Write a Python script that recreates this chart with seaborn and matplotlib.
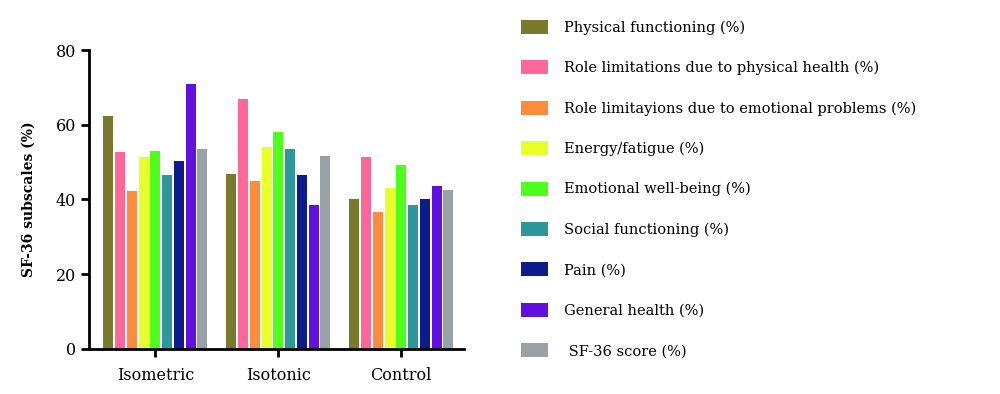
import matplotlib
matplotlib.use("Agg")
import matplotlib.pyplot as plt
import seaborn as sns
import pandas as pd

groups = ["Isometric", "Isotonic", "Control"]
subscales = [
    "Physical functioning (%)",
    "Role limitations due to physical health (%)",
    "Role limitayions due to emotional problems (%)",
    "Energy/fatigue (%)",
    "Emotional well-being (%)",
    "Social functioning (%)",
    "Pain (%)",
    "General health (%)",
    " SF-36 score (%)",
]
isometric = [62.4, 52.7, 42.3, 51.3, 52.9, 46.4, 50.4, 70.9, 53.6]
isotonic = [46.9, 66.8, 44.9, 54.1, 58.1, 53.6, 46.5, 38.4, 51.7]
control = [40.1, 51.3, 36.6, 43.0, 49.1, 38.5, 40.1, 43.6, 42.5]
colors = ["#7b7a2c", "#ff6699", "#ff8c3c", "#e8ff2a", "#4dff1a",
          "#2e979c", "#0c1c8c", "#6210e0", "#98a2a6"]
yticks = [0, 20, 40, 60, 80]

rows = []
for g, vals in zip(groups, [isometric, isotonic, control]):
    for s, v in zip(subscales, vals):
        rows.append({"group": g, "subscale": s, "value": v})
df = pd.DataFrame(rows)

sns.set_style("ticks")
plt.rcParams["font.family"] = ["DejaVu Serif"]
plt.rcParams["text.color"] = "black"
plt.rcParams["axes.labelcolor"] = "black"
plt.rcParams["xtick.color"] = "black"
plt.rcParams["ytick.color"] = "black"
plt.rcParams["axes.edgecolor"] = "black"

fig = plt.figure(figsize=(10, 3.94), dpi=100)
ax = fig.add_axes([0.089, 0.115, 0.375, 0.758])
sns.barplot(data=df, x="group", y="value", hue="subscale", order=groups,
            hue_order=subscales, palette=colors, width=0.86, gap=0.15,
            saturation=1, errorbar=None, linewidth=0, edgecolor="none", ax=ax)

handles, labels = ax.get_legend_handles_labels()
if ax.legend_ is not None:
    ax.legend_.remove()

ax.set_ylim(0, 80)
ax.set_xlim(-0.54, 2.51)
ax.set_yticks(yticks)
ax.set_xlabel("")
ax.set_ylabel("SF-36 subscales (%)", fontsize=10, fontweight="bold", labelpad=14)
ax.tick_params(axis="both", labelsize=11.5, width=2, length=6, color="black",
               labelcolor="black")
ax.tick_params(axis="x", pad=7)
for sp in ["left", "bottom"]:
    ax.spines[sp].set_linewidth(2)
    ax.spines[sp].set_color("black")
sns.despine(ax=ax)

fig.legend(handles, labels, loc="upper left", bbox_to_anchor=(0.515, 0.965),
           frameon=False, fontsize=10.5, handlelength=1.85, handleheight=1.1,
           handletextpad=1.1, labelspacing=1.75, borderaxespad=0,
           labelcolor="black")

fig.savefig("out.png", dpi=100)
